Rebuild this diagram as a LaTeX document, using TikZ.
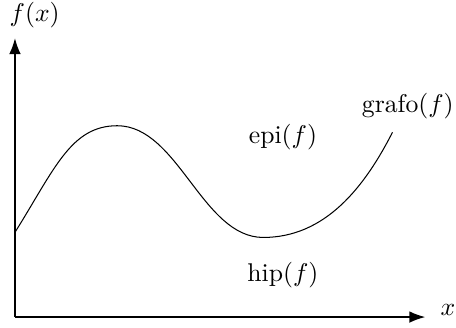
\documentclass[tikz,border=0pt]{standalone}
\usepackage{amsmath}
\usetikzlibrary{arrows, arrows.meta, positioning, calc}

\begin{document}
\begin{tikzpicture}[
	eje/.style={-{Latex[length=2.2mm, width=1.6mm]}, semithick},
	curva/.style={thin, black},
	etq/.style={inner sep=1pt}]

	\useasboundingbox (-0.205,-0.137) rectangle (6.04,4.342);

	\coordinate (o) at (0,0);
	\coordinate (ytop) at (0,3.82);
	\coordinate (xend) at (5.62,0);
	\draw[eje] (o) -- (ytop);
	\draw[eje] (o) -- (xend);
	\node[etq] (fx) at (0.27,4.14) {$f(x)$};
	\node[etq] (xx) at (5.93,0.10) {$x$};

	% puntos de la función
	\coordinate (c0) at (0,1.16);
	\coordinate (c1) at (1.40,2.62);
	\coordinate (c2) at (3.40,1.09);
	\coordinate (c3) at (5.17,2.53);
	\draw[curva] (c0) to[out=58,in=180,out looseness=1.3,in looseness=0.8] (c1)
		to[out=0,in=180,looseness=0.85] (c2)
		to[out=0,in=243,looseness=0.95] (c3);

	\node[etq] (epi) at (3.67,2.47) {epi$(f)$};
	\node[etq] (grafo) at (5.38,2.89) {grafo$(f)$};
	\node[etq] (hip) at (3.67,0.58) {hip$(f)$};
\end{tikzpicture}
\end{document}
